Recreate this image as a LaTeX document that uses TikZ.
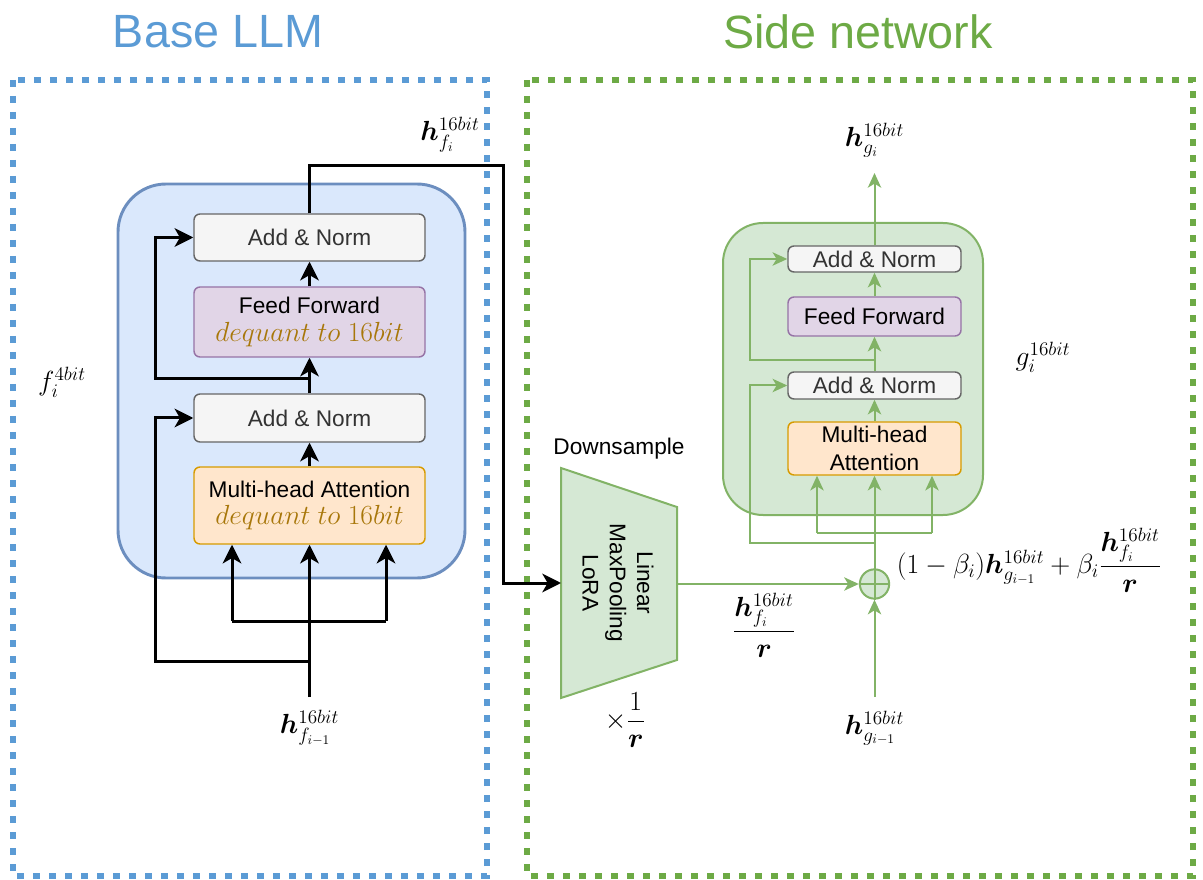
\documentclass[tikz,border=0pt]{standalone}
\usepackage{amsmath}
\usepackage{bm}
\usepackage{fontspec}
\setmainfont{Liberation Sans}
\usetikzlibrary{arrows.meta,calc}

\definecolor{cFrameBlue}{HTML}{5B9BD5}
\definecolor{cFrameGreen}{HTML}{6DAA45}
\definecolor{cBlueFill}{HTML}{DAE8FC}
\definecolor{cBlueLine}{HTML}{6C8EBF}
\definecolor{cGreenFill}{HTML}{D5E8D4}
\definecolor{cGreenLine}{HTML}{82B366}
\definecolor{cAnFill}{HTML}{F5F5F5}
\definecolor{cAnLine}{HTML}{666666}
\definecolor{cAnText}{HTML}{333333}
\definecolor{cFfFill}{HTML}{E1D5E7}
\definecolor{cFfLine}{HTML}{9673A6}
\definecolor{cMhaFill}{HTML}{FFE6CC}
\definecolor{cMhaLine}{HTML}{D79B00}
\definecolor{cDequant}{HTML}{A8770A}

\newcommand\blockfont{\fontsize{17}{20.5}\selectfont}
\newcommand\labfont{\fontsize{20}{24}\selectfont}
\newcommand\dequant{{\color{cDequant}\fontsize{19.5}{20.5}\selectfont$dequant\ to\ 16bit$}}

\tikzset{
  blk/.style={draw, rounded corners=4.5pt, line width=1.1pt, inner sep=0pt,
    align=center, font=\blockfont},
  wideblk/.style={blk, minimum width=173.25pt},
  narrowblk/.style={blk, minimum width=129.75pt},
  anstyle/.style={fill=cAnFill, draw=cAnLine, text=cAnText},
  ffstyle/.style={fill=cFfFill, draw=cFfLine},
  mhastyle/.style={fill=cMhaFill, draw=cMhaLine},
  blackarrow/.style={line width=2.25pt, -{Stealth[length=14pt,width=14pt,inset=4pt]}},
  blackline/.style={line width=2.25pt},
  greenarrow/.style={line width=1.5pt, draw=cGreenLine, -{Stealth[length=11pt,width=10pt,inset=3pt]}},
  greenline/.style={line width=1.5pt, draw=cGreenLine},
  dotframe/.style={line width=4.5pt, dash pattern=on 5.25pt off 6.75pt},
  lab/.style={font=\labfont, inner sep=0pt},
}

\begin{document}
\begin{tikzpicture}[x=0.75pt, y=-0.75pt]
  \useasboundingbox (0,0) rectangle (1203,880);

  % outer dotted frames and titles
  \draw[dotframe, draw=cFrameBlue] (13,80) rectangle (487,876);
  \draw[dotframe, draw=cFrameGreen] (527,80) rectangle (1193,876);
  \node[text=cFrameBlue, font=\fontsize{35}{40}\selectfont] (titleL) at (218,32) {Base LLM};
  \node[text=cFrameGreen, font=\fontsize{35}{40}\selectfont] (titleR) at (858,32) {Side network};

  % ---------------- base LLM block ----------------
  \draw[fill=cBlueFill, draw=cBlueLine, line width=2.2pt, rounded corners=36pt]
    (118,184) rectangle (465,578);

  \node[wideblk, anstyle, minimum height=35.25pt] (lan2) at (309.5,237.5) {Add \& Norm};
  \node[wideblk, ffstyle, minimum height=52.5pt] (lff) at (309.5,322) {Feed Forward\\\dequant};
  \node[wideblk, anstyle, minimum height=36pt] (lan1) at (309.5,418) {Add \& Norm};
  \node[wideblk, mhastyle, minimum height=57.75pt] (lmha) at (309.5,505.5) {Multi-head Attention\\\dequant};

  \coordinate (lin) at (309.5,697);
  \coordinate (lres1) at (309.5,661);
  \coordinate (lqa) at (232,621);
  \coordinate (lqb) at (386,621);
  \coordinate (lres2) at (309.5,379);
  \coordinate (lturn) at (503,166);

  \draw[blackarrow] (lin) -- (lmha.south);
  \draw[blackline] (lqa) -- (lqb);
  \draw[blackarrow] (lqa) -- (lqa |- lmha.south);
  \draw[blackarrow] (lqb) -- (lqb |- lmha.south);
  \draw[blackarrow] (lres1) -- ++(-154.5,0) |- (lan1.west);
  \draw[blackarrow] (lmha.north) -- (lan1.south);
  \draw[blackarrow] (lan1.north) -- (lff.south);
  \draw[blackarrow] (lres2) -- ++(-154.5,0) |- (lan2.west);
  \draw[blackarrow] (lff.north) -- (lan2.south);

  \node[lab] (hin) at (309.5,728) {$\bm{h}^{16bit}_{f_{i-1}}$};
  \node[lab] (fname) at (62,382) {$f^{4bit}_{i}$};
  \node[lab] (hout) at (450,135) {$\bm{h}^{16bit}_{f_i}$};

  % ---------------- downsample ----------------
  \coordinate (trapW) at (561,583);
  \coordinate (trapE) at (677,584);
  \draw[fill=cGreenFill, draw=cGreenLine, line width=1.5pt]
    (561,468) -- (677,507) -- (677,660) -- (561,698) -- cycle;
  \node[rotate=-90, align=center, font=\blockfont] (traptext) at (618,583) {Linear\\MaxPooling\\LoRA};
  \node[font=\blockfont] (downlab) at (619,449) {Downsample};
  \node[lab] (scalelab) at (625,720) {$\times\dfrac{1}{\bm{r}}$};

  \draw[blackarrow] (lan2.north) |- (lturn) |- (trapW);

  % ---------------- side network block ----------------
  \draw[fill=cGreenFill, draw=cGreenLine, line width=1.5pt, rounded corners=30pt]
    (723,223) rectangle (983,515);

  \node[narrowblk, anstyle, minimum height=19.5pt] (ran2) at (874.5,259) {Add \& Norm};
  \node[narrowblk, ffstyle, minimum height=29.25pt] (rff) at (874.5,316.5) {Feed Forward};
  \node[narrowblk, anstyle, minimum height=20.25pt] (ran1) at (874.5,385.5) {Add \& Norm};
  \node[narrowblk, mhastyle, minimum height=39.75pt] (rmha) at (874.5,448.5) {Multi-head\\Attention};

  \node[circle, draw=cGreenLine, fill=cGreenFill, line width=1.5pt, minimum size=22pt, inner sep=0pt] (oplus) at (874.5,584) {};
  \draw[greenline] (oplus.north) -- (oplus.south) (oplus.west) -- (oplus.east);

  \coordinate (rin) at (874.5,697);
  \coordinate (rres1) at (874.5,543);
  \coordinate (rqa) at (817,533);
  \coordinate (rqb) at (932,533);
  \coordinate (rres2) at (874.5,360);
  \coordinate (rout) at (874.5,173);

  \draw[greenarrow] (trapE) -- (oplus.west);
  \draw[greenarrow] (rin) -- (oplus.south);
  \draw[greenarrow] (oplus.north) -- (rmha.south);
  \draw[greenline] (rqa) -- (rqb);
  \draw[greenarrow] (rqa) -- (rqa |- rmha.south);
  \draw[greenarrow] (rqb) -- (rqb |- rmha.south);
  \draw[greenarrow] (rres1) -- ++(-124.5,0) |- (ran1.west);
  \draw[greenarrow] (rmha.north) -- (ran1.south);
  \draw[greenarrow] (ran1.north) -- (rff.south);
  \draw[greenarrow] (rres2) -- ++(-124.5,0) |- (ran2.west);
  \draw[greenarrow] (rff.north) -- (ran2.south);
  \draw[greenarrow] (ran2.north) -- (rout);

  \node[lab] (hgout) at (874.5,140) {$\bm{h}^{16bit}_{g_i}$};
  \node[lab] (hgin) at (874.5,728) {$\bm{h}^{16bit}_{g_{i-1}}$};
  \node[lab] (gname) at (1043,357) {$g^{16bit}_{i}$};
  \node[lab] (fraclab) at (764,625) {$\dfrac{\bm{h}^{16bit}_{f_i}}{\bm{r}}$};
  \node[lab] (mixlab) at (1029,560) {$(1-\beta_i)\bm{h}^{16bit}_{g_{i-1}}+\beta_i\dfrac{\bm{h}^{16bit}_{f_i}}{\bm{r}}$};
\end{tikzpicture}
\end{document}
